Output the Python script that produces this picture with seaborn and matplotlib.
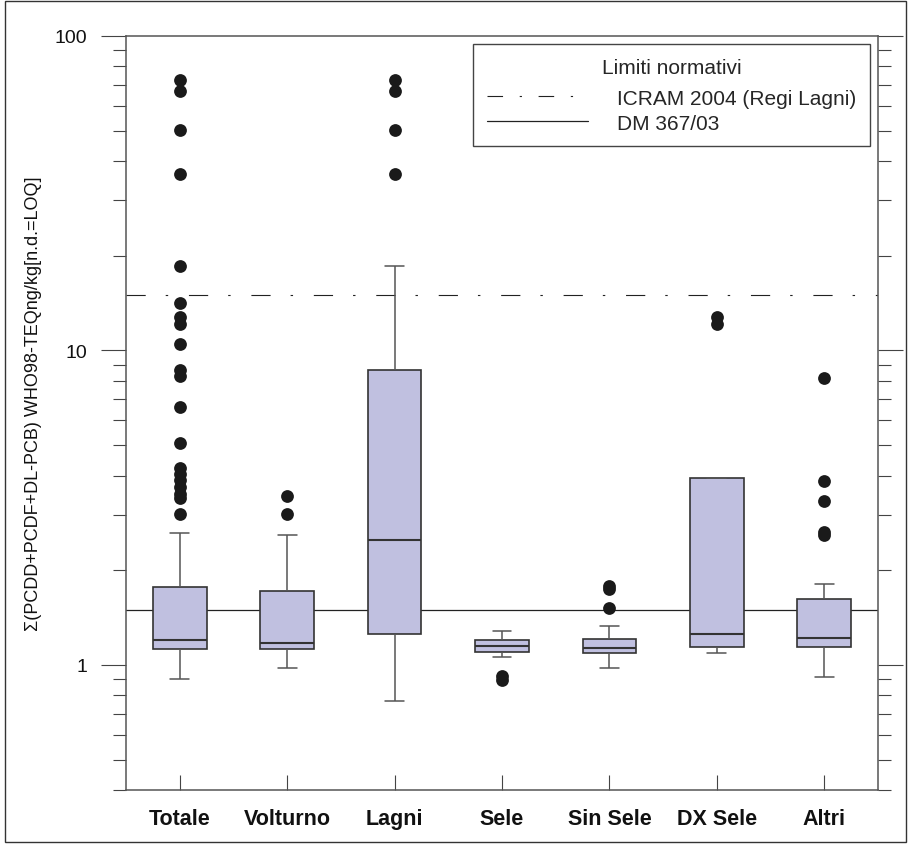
import numpy as np
import pandas as pd
import matplotlib
matplotlib.use("Agg")
import matplotlib.pyplot as plt
import seaborn as sns
from matplotlib.lines import Line2D
from matplotlib.patches import Rectangle
from matplotlib.ticker import LogLocator, NullFormatter, FuncFormatter

# ---------------- data ----------------
categories = ["Totale", "Volturno", "Lagni", "Sele", "Sin Sele", "DX Sele", "Altri"]
whisker_low = [0.905, 0.974, 0.77, 1.06, 0.974, 1.089, 0.914]
q1 = [1.127, 1.127, 1.254, 1.10, 1.092, 1.144, 1.14]
median = [1.20, 1.17, 2.49, 1.149, 1.132, 1.257, 1.215]
q3 = [1.765, 1.72, 8.64, 1.20, 1.212, 3.93, 1.617]
whisker_high = [2.63, 2.59, 18.6, 1.28, 1.327, 3.93, 1.81]

outliers_totale = [72.7, 67.0, 50.3, 36.3, 18.5, 14.2, 12.8, 12.1, 10.45, 8.65,
                   8.31, 6.6, 5.07, 4.24, 4.05, 3.86, 3.69, 3.5, 3.39, 3.02]
outliers_volturno = [3.45, 3.02]
outliers_lagni = [72.7, 67.0, 50.3, 36.3]
outliers_sele = [0.92, 0.895]
outliers_sin_sele = [1.78, 1.74, 1.517]
outliers_dx_sele = [12.8, 12.1]
outliers_altri = [8.15, 3.83, 3.31, 2.64, 2.58]

icram_limit = 15.0
dm_limit = 1.5

y_label = "\u03a3(PCDD+PCDF+DL-PCB) WHO98-TEQng/kg[n.d.=LOQ]"
legend_title = "Limiti normativi"
legend_labels = ["ICRAM 2004 (Regi Lagni)", "DM 367/03"]

# ---------------- tables ----------------
box_rows = []
for i, cat in enumerate(categories):
    for v in (whisker_low[i], q1[i], median[i], q3[i], whisker_high[i]):
        box_rows.append({"group": cat, "value": v})
box_df = pd.DataFrame(box_rows)

out_lists = [outliers_totale, outliers_volturno, outliers_lagni, outliers_sele,
             outliers_sin_sele, outliers_dx_sele, outliers_altri]
out_rows = []
for cat, lst in zip(categories, out_lists):
    for v in lst:
        out_rows.append({"group": cat, "value": v})
out_df = pd.DataFrame(out_rows)

# ---------------- style ----------------
sns.set_style("ticks")
plt.rcParams["font.family"] = ["Liberation Sans", "DejaVu Sans"]
plt.rcParams["axes.edgecolor"] = "#555555"

W, H = 908, 845
fig = plt.figure(figsize=(W / 100, H / 100), dpi=100)
L, R, T, B = 126, 878, 37, 791
ax = fig.add_axes([L / W, (H - B) / H, (R - L) / W, (B - T) / H])

box_fill = "#c0c0e0"
edge = "#333333"

sns.boxplot(data=box_df, x="group", y="value", order=categories, ax=ax,
            log_scale=True, width=0.5, whis=(0, 100), showfliers=False,
            color=box_fill, saturation=1, linecolor=edge, linewidth=1.2,
            capwidths=0.175,
            medianprops={"color": "#333333", "linewidth": 1.5},
            whiskerprops={"color": "#555555", "linewidth": 1.1},
            capprops={"color": "#555555", "linewidth": 1.1})

sns.stripplot(data=out_df, x="group", y="value", order=categories, ax=ax,
              log_scale=True, jitter=False, color="#1a1a1a", size=9.2,
              linewidth=0, zorder=5)

dashdot = (17.3, 18.0, 2.2, 18.7)
ax.axhline(icram_limit, color="#222222", lw=0.8, dashes=dashdot, zorder=1)
ax.axhline(dm_limit, color="#222222", lw=0.9, zorder=1)

ax.set_xlim(-0.5, len(categories) - 0.5)
ax.set_ylim(0.4, 100)

ax.yaxis.set_major_locator(LogLocator(base=10))
ax.yaxis.set_minor_locator(LogLocator(base=10, subs=np.arange(2, 10)))
ax.yaxis.set_minor_formatter(NullFormatter())
ax.yaxis.set_major_formatter(FuncFormatter(lambda v, p: f"{v:g}"))

ax.tick_params(axis="y", which="both", left=True, right=True, direction="out",
               labelright=False, color="#444444", width=0.8, labelsize=14,
               pad=10, labelcolor="#111111")
ax.tick_params(axis="y", which="major", length=18)
ax.tick_params(axis="y", which="minor", length=9.4)
ax.tick_params(axis="x", which="both", direction="in", length=11, top=False,
               color="#444444", width=0.8, labelsize=15.5, pad=13,
               labelcolor="#111111")
for lbl in ax.get_xticklabels():
    lbl.set_fontweight("bold")

for sp in ax.spines.values():
    sp.set_visible(True)
    sp.set_color("#555555")
    sp.set_linewidth(1.1)

ax.set_xlabel("")
ax.set_ylabel(y_label, fontsize=13, color="#111111")
ax.yaxis.set_label_coords(-0.112, 0.513)

handles = [Line2D([], [], color="#222222", lw=0.8, dashes=(14, 15, 2, 15)),
           Line2D([], [], color="#222222", lw=0.9)]
leg = ax.legend(handles, legend_labels, title=legend_title, loc="upper right",
                fontsize=15, title_fontsize=15, frameon=True, fancybox=False,
                framealpha=1, edgecolor="#444444", handlelength=4.85,
                handletextpad=1.4, borderpad=0.66, labelspacing=0.29,
                borderaxespad=0.38)
leg.get_frame().set_linewidth(1.0)
# a little more room between the legend title and its entries
leg._legend_box.sep = 8.6

fig.patches.append(Rectangle((5 / W, 2 / H), (906 - 5) / W, (843 - 2) / H,
                             transform=fig.transFigure, fill=False,
                             edgecolor="#333333", lw=1.0))

fig.savefig("out.png", dpi=100)
